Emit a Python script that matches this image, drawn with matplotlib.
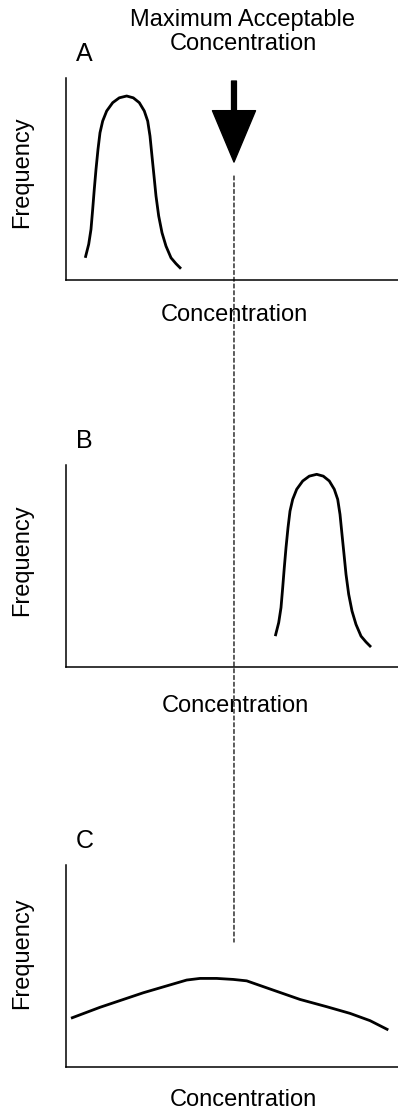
import matplotlib
matplotlib.use("Agg")
import matplotlib.pyplot as plt
from matplotlib.patches import ConnectionPatch

plt.rcParams["font.family"] = ["Liberation Sans", "DejaVu Sans"]

# curve A (narrow peak, low concentration)
a_x = [5.81, 6.84, 7.53, 8.04, 8.52, 9.04, 9.64, 10.24, 11.05, 12.26, 14.07, 16.05, 18.28,
       20.27, 22.08, 23.58, 24.61, 25.30, 25.90, 26.51, 27.11, 27.92, 28.92, 30.12, 31.63,
       33.13, 34.64]
a_y = [11.0, 17.7, 25.1, 35.0, 44.9, 54.8, 64.7, 72.9, 78.7, 83.7, 87.8, 90.2, 91.1,
       90.2, 87.8, 83.7, 78.7, 71.3, 61.4, 51.5, 41.6, 31.7, 23.4, 16.8, 11.0,
       8.1, 5.6]

# curve B (narrow peak, high concentration)
b_x = [63.04, 64.07, 64.76, 65.27, 65.75, 66.27, 66.87, 67.47, 68.28, 69.49, 71.30, 73.28, 75.51,
       77.50, 79.31, 80.81, 81.84, 82.53, 83.13, 83.74, 84.34, 85.15, 86.15, 87.35, 88.86,
       90.36, 91.87]
b_y = [15.4, 22.1, 29.5, 39.4, 49.3, 59.2, 69.1, 77.3, 83.1, 88.1, 92.2, 94.6, 95.5,
       94.6, 92.2, 88.1, 83.1, 75.7, 65.8, 55.9, 46.0, 36.1, 27.8, 21.2, 15.4,
       12.5, 10.0]

# curve C (wide, flat)
c_x = [1.51, 10.24, 23.28, 30.33, 36.36, 40.36, 45.39, 50.39, 54.43, 62.44, 70.48, 78.52,
       85.54, 91.57, 97.08]
c_y = [24.0, 29.4, 36.6, 40.0, 42.9, 43.7, 43.7, 43.2, 42.5, 37.9, 33.3, 29.7,
       26.4, 22.8, 18.2]

threshold = 50.6
arrow_top, arrow_tip = 98.5, 58.4
dash_top, dash_bottom = 51.5, 61.7

panels = ["A", "B", "C"]
curves = [(a_x, a_y), (b_x, b_y), (c_x, c_y)]

fig = plt.figure(figsize=(3.98, 11.13), dpi=100)
bottoms = [0.7484, 0.4005, 0.0416]
freq_y = [0.535, 0.531, 0.563]
xlab_pos = [(0.506, -0.173), (0.509, -0.19), (0.533, -0.165)]

axes = []
for i, name in enumerate(panels):
    ax = fig.add_axes([0.1658, bottoms[i], 0.8342, 0.1815])
    ax.set_xlim(0, 100)
    ax.set_ylim(0, 100)
    for s in ["top", "right"]:
        ax.spines[s].set_visible(False)
    ax.spines["left"].set_linewidth(1.1)
    ax.spines["bottom"].set_linewidth(1.1)
    ax.set_xticks([])
    ax.set_yticks([])
    ax.patch.set_alpha(0)
    x, y = curves[i]
    ax.plot(x, y, color="black", lw=2.0, solid_capstyle="butt", solid_joinstyle="round")
    ax.text(0.03, 1.085, name, transform=ax.transAxes, fontsize=18, va="baseline", ha="left")
    ax.text(-0.133, freq_y[i], "Frequency", transform=ax.transAxes, rotation=90,
            fontsize=17, ha="center", va="center")
    ax.text(xlab_pos[i][0], xlab_pos[i][1], "Concentration", transform=ax.transAxes,
            fontsize=17, ha="center", va="center")
    axes.append(ax)

axA, axC = axes[0], axes[2]

axA.text(0.533, 1.228, "Maximum Acceptable\nConcentration", transform=axA.transAxes,
         fontsize=17, ha="center", va="center", linespacing=1.15)

axA.annotate("", xy=(threshold, arrow_tip), xytext=(threshold, arrow_top),
             arrowprops=dict(facecolor="black", edgecolor="black", width=3.5,
                             headwidth=31, headlength=37, shrink=0.0),
             annotation_clip=False)

con = ConnectionPatch(xyA=(threshold, dash_top), coordsA="data", axesA=axA,
                      xyB=(threshold, dash_bottom), coordsB="data", axesB=axC,
                      color="black", lw=0.9, linestyle=(0, (3.2, 2.2)))
fig.add_artist(con)

fig.savefig("out.png", dpi=100)
